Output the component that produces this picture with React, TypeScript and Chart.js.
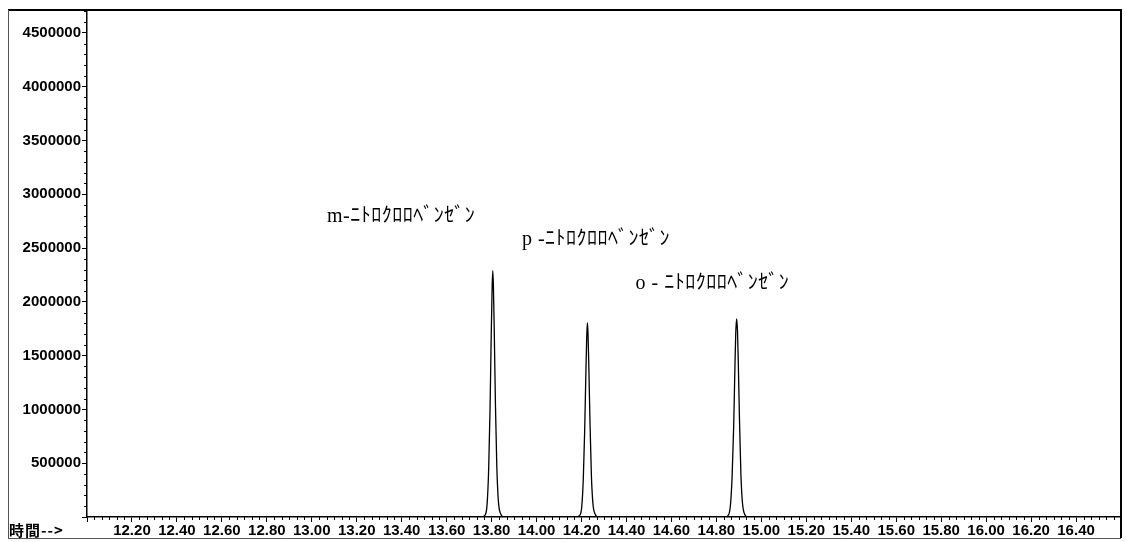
import React, { useEffect, useRef } from "react";
import { Chart, registerables } from "chart.js";

Chart.register(...registerables);

// ---- scale settings ----
const X_MIN = 12.0;
const X_MAX = 16.6;
const X_MAJOR_STEP = 0.2;
const X_MINOR_STEP = 0.2 / 6;
const Y_MIN = 0;
const Y_MAX = 4712000;
const Y_MINOR_STEP = 100000;

// ---- tick labels ----
const yTickValues = [0, 500000, 1000000, 1500000, 2000000, 2500000, 3000000, 3500000, 4000000, 4500000];
const xTickValues = [12.0, 12.2, 12.4, 12.6, 12.8, 13.0, 13.2, 13.4, 13.6, 13.8, 14.0, 14.2, 14.4, 14.6, 14.8, 15.0, 15.2, 15.4, 15.6, 15.8, 16.0, 16.2, 16.4, 16.6];

// ---- chromatogram data (retention time [min], abundance) ----
const baselineTimes = [12.0, 16.6];
const baselineSignal = [0, 0];

const mTimes = [13.755, 13.77, 13.78, 13.787, 13.793, 13.798, 13.802, 13.805, 13.808, 13.812, 13.817, 13.823, 13.83, 13.84, 13.855];
const mSignal = [0, 15000, 120000, 450000, 1000000, 1650000, 2100000, 2289000, 2150000, 1700000, 1050000, 480000, 150000, 30000, 0];

const pTimes = [14.178, 14.191, 14.201, 14.208, 14.214, 14.219, 14.223, 14.226, 14.229, 14.233, 14.238, 14.244, 14.251, 14.261, 14.273];
const pSignal = [0, 12000, 95000, 360000, 800000, 1300000, 1660000, 1806000, 1700000, 1350000, 850000, 380000, 120000, 25000, 0];

const oTimes = [14.839, 14.852, 14.862, 14.87, 14.877, 14.882, 14.886, 14.89, 14.894, 14.898, 14.903, 14.909, 14.916, 14.926, 14.939];
const oSignal = [0, 14000, 100000, 380000, 850000, 1350000, 1700000, 1840000, 1720000, 1380000, 880000, 400000, 130000, 25000, 0];

// ---- compound annotations (anchor in data coordinates) ----
const compoundLabels = ["m-ﾆﾄﾛｸﾛﾛﾍﾞﾝｾﾞﾝ", "p -ﾆﾄﾛｸﾛﾛﾍﾞﾝｾﾞﾝ", "o - ﾆﾄﾛｸﾛﾛﾍﾞﾝｾﾞﾝ"];
const labelTimes = [13.068, 13.935, 14.44];
const labelValues = [2790000, 2575000, 2165000];

const axisTitle = "時間-->";

const TICK_FONT = { family: "'Liberation Sans', Arial, sans-serif", size: 15, weight: "bold" as const };

function buildPoints() {
  const pts: { x: number; y: number }[] = [];
  pts.push({ x: baselineTimes[0], y: baselineSignal[0] });
  [[mTimes, mSignal], [pTimes, pSignal], [oTimes, oSignal]].forEach(([t, s]) => {
    t.forEach((tv, i) => pts.push({ x: tv, y: s[i] }));
  });
  pts.push({ x: baselineTimes[1], y: baselineSignal[1] });
  return pts;
}

const decorPlugin = {
  id: "decor",
  afterDraw(chart: any) {
    const { ctx, chartArea } = chart;
    const x = chart.scales.x;
    const y = chart.scales.y;
    ctx.save();
    ctx.strokeStyle = "#000";
    ctx.lineWidth = 1;
    // minor ticks y
    const ny = Math.floor((Y_MAX - Y_MIN) / Y_MINOR_STEP);
    for (let i = 1; i <= ny; i++) {
      const v = Y_MIN + i * Y_MINOR_STEP;
      if (yTickValues.some((t) => Math.abs(t - v) < 1)) continue;
      const py = Math.round(y.getPixelForValue(v)) + 0.5;
      ctx.beginPath();
      ctx.moveTo(chartArea.left - 3, py);
      ctx.lineTo(chartArea.left, py);
      ctx.stroke();
    }
    // minor ticks x
    const nx = Math.round((X_MAX - X_MIN) / X_MINOR_STEP);
    const perMajor = Math.round(X_MAJOR_STEP / X_MINOR_STEP);
    for (let i = 1; i < nx; i++) {
      if (i % perMajor === 0) continue;
      const v = X_MIN + i * X_MINOR_STEP;
      const px = Math.round(x.getPixelForValue(v)) + 0.5;
      ctx.beginPath();
      ctx.moveTo(px, chartArea.bottom);
      ctx.lineTo(px, chartArea.bottom + 3);
      ctx.stroke();
    }
    // frame
    ctx.lineWidth = 2;
    ctx.beginPath();
    ctx.moveTo(8, chartArea.top);
    ctx.lineTo(chartArea.right, chartArea.top);
    ctx.lineTo(chartArea.right, 538);
    ctx.stroke();
    ctx.lineWidth = 1;
    ctx.strokeStyle = "#555";
    ctx.beginPath();
    ctx.moveTo(8.5, chartArea.top);
    ctx.lineTo(8.5, 538);
    ctx.moveTo(8, 538.5);
    ctx.lineTo(chartArea.right, 538.5);
    ctx.stroke();

    // axis title
    ctx.fillStyle = "#000";
    ctx.font = "bold 15px 'Noto Sans CJK JP', sans-serif";
    ctx.textAlign = "left";
    ctx.textBaseline = "middle";
    try { (ctx as any).letterSpacing = "1px"; } catch (e) {}
    ctx.fillText(axisTitle, 9, 530);

    // compound labels
    ctx.font = "20px 'Liberation Serif', 'Noto Sans CJK JP', serif";
    try { (ctx as any).letterSpacing = "0.5px"; } catch (e) {}
    compoundLabels.forEach((txt, i) => {
      ctx.fillText(txt, x.getPixelForValue(labelTimes[i]), y.getPixelForValue(labelValues[i]));
    });
    ctx.restore();
  },
};

export default function App() {
  const ref = useRef<HTMLCanvasElement | null>(null);
  useEffect(() => {
    if (!ref.current) return;
    const chart = new Chart(ref.current, {
      type: "line",
      data: {
        datasets: [
          {
            data: buildPoints(),
            borderColor: "#000",
            borderWidth: 1.3,
            pointRadius: 0,
            fill: false,
            cubicInterpolationMode: "monotone",
          },
        ],
      },
      options: {
        animation: false,
        responsive: false,
        events: [],
        layout: { padding: { top: 10, right: 6, left: 0, bottom: 0 } },
        plugins: { legend: { display: false }, tooltip: { enabled: false }, title: { display: false } },
        scales: {
          x: {
            type: "linear",
            min: X_MIN,
            max: X_MAX,
            afterFit: (s: any) => { s.height = 25; },
            afterBuildTicks: (s: any) => { s.ticks = xTickValues.map((v) => ({ value: v })); },
            border: { display: true, color: "#000", width: 1.5 },
            grid: { drawOnChartArea: false, drawTicks: true, tickLength: 5, color: "#000" },
            ticks: {
              autoSkip: false,
              maxRotation: 0,
              padding: 0,
              color: "#000",
              font: TICK_FONT,
              callback: (v: any) => {
                const n = Number(v);
                return n > X_MIN + 1e-6 && n < X_MAX - 1e-6 ? n.toFixed(2) : "";
              },
            },
          },
          y: {
            type: "linear",
            min: Y_MIN,
            max: Y_MAX,
            afterFit: (s: any) => { s.width = 87; },
            afterBuildTicks: (s: any) => { s.ticks = yTickValues.map((v) => ({ value: v })); },
            border: { display: true, color: "#000", width: 1.5 },
            grid: { drawOnChartArea: false, drawTicks: true, tickLength: 5, color: "#000" },
            ticks: {
              autoSkip: false,
              padding: 1,
              color: "#000",
              font: TICK_FONT,
              callback: (v: any) => (Number(v) > 0 ? String(Math.round(Number(v))) : ""),
            },
          },
        },
      },
      plugins: [decorPlugin],
    } as any);
    return () => chart.destroy();
  }, []);
  return (
    <div style={{ position: "fixed", left: 0, top: 0, width: 1127, height: 542, background: "#fff" }}>
      <canvas ref={ref} width={1127} height={542} style={{ display: "block" }} />
    </div>
  );
}
